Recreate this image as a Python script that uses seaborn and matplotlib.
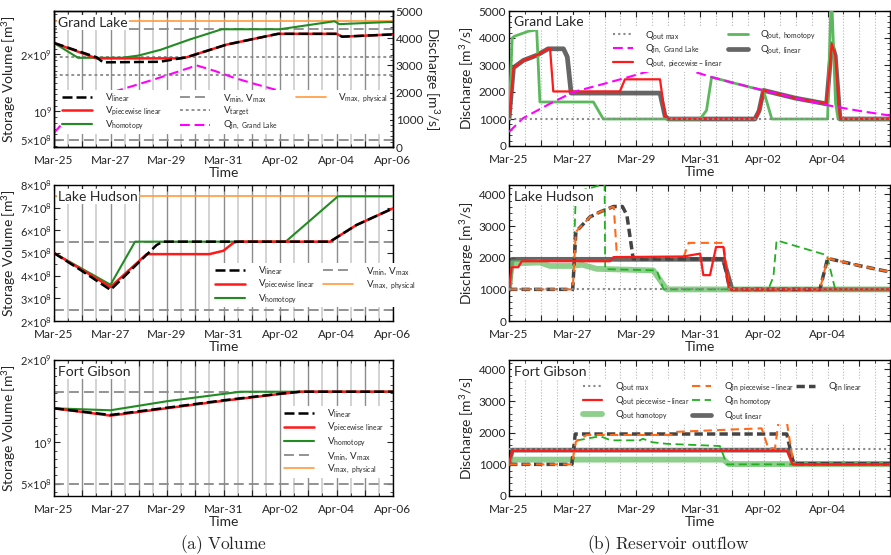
import matplotlib

matplotlib.use("Agg")
import matplotlib.dates as mdates
import matplotlib.pyplot as plt
import numpy as np
import pandas as pd
import seaborn as sns
from matplotlib.lines import Line2D
from matplotlib.ticker import AutoMinorLocator, FixedLocator, FuncFormatter, MultipleLocator

START = pd.Timestamp("2019-03-25")

# ---------------- Grand Lake ----------------
gl_inflow_days = [0, 0.44, 1.29, 2.02, 3.0, 3.59, 4.3, 5.05, 5.68, 6.36, 7.0, 8.0, 9.0, 10.0, 11.0, 12.0]
gl_inflow = [520, 1030, 1570, 2000, 2310, 2500, 2740, 3000, 2800, 2550, 2350, 2060, 1770, 1510, 1300, 1120]

gl_v_lin_days = [0, 1.5, 1.74, 3.74, 4.7, 6.1, 7.06, 7.93, 10.0, 10.2, 12]
gl_v_lin = [2.20e9, 1.95e9, 1.86e9, 1.87e9, 1.95e9, 2.17e9, 2.27e9, 2.36e9, 2.36e9, 2.31e9, 2.35e9]
gl_v_pwl_days = [0, 1.5, 4.5, 4.7, 6.1, 7.06, 7.93, 10.0, 10.2, 12]
gl_v_pwl = [2.20e9, 1.93e9, 1.93e9, 1.95e9, 2.17e9, 2.27e9, 2.36e9, 2.36e9, 2.31e9, 2.35e9]
gl_v_hom_days = [0, 0.85, 2.4, 3.0, 3.77, 4.8, 5.94, 7.99, 9.93, 10.1, 12]
gl_v_hom = [2.20e9, 1.94e9, 1.94e9, 1.98e9, 2.08e9, 2.26e9, 2.44e9, 2.44e9, 2.58e9, 2.53e9, 2.57e9]
gl_v_min, gl_v_max = 5.0e8, 2.44e9
gl_v_target = [1.95e9, 1.635e9]
gl_v_max_phys = 2.59e9

gl_q_hom_days = [0, 0.1, 0.16, 0.61, 0.87, 0.97, 2.65, 2.86, 2.96, 6.0, 6.2, 6.36, 7.0, 7.99, 8.25,
                 10.0, 10.12, 10.25, 10.33, 12]
gl_q_hom = [1000, 4000, 4060, 4250, 4300, 1630, 1630, 1200, 1000, 1000, 1320, 2550, 2350, 2050, 1000,
            1000, 5800, 1600, 1000, 1000]
gl_q_lin_days = [0, 0.14, 0.45, 0.87, 1.23, 1.71, 1.83, 1.95, 4.74, 4.9, 5.0, 7.72, 7.85, 7.99, 9.0,
                 9.97, 10.13, 10.24, 10.39, 12]
gl_q_lin = [1000, 2900, 3170, 3360, 3600, 3600, 3300, 1960, 1960, 1100, 1000, 1000, 1300, 2060, 1770,
            1560, 3790, 3350, 1000, 1000]
gl_q_pwl_days = [0, 0.14, 0.45, 0.87, 1.23, 1.29, 1.39, 3.48, 3.64, 4.74, 4.9, 5.0, 7.72, 7.85, 7.99,
                 9.0, 9.97, 10.13, 10.24, 10.39, 12]
gl_q_pwl = [1000, 2900, 3170, 3360, 3600, 3600, 2020, 2020, 2470, 2470, 1100, 1000, 1000, 1300, 2060,
            1770, 1560, 3790, 3350, 1000, 1000]
gl_q_max = 1000

# ---------------- Lake Hudson ----------------
lh_v_lin_days = [0, 1.0, 2.0, 3.63, 3.85, 9.77, 10.7, 12]
lh_v_lin = [5.0e8, 4.2e8, 3.37e8, 5.35e8, 5.5e8, 5.5e8, 6.23e8, 6.97e8]
lh_v_pwl_days = [0, 1.0, 2.0, 3.28, 5.5, 6.0, 6.35, 6.5, 9.77, 10.7, 12]
lh_v_pwl = [5.0e8, 4.25e8, 3.5e8, 4.95e8, 4.95e8, 5.1e8, 5.45e8, 5.5e8, 5.5e8, 6.23e8, 6.97e8]
lh_v_hom_days = [0, 2.0, 2.87, 8.2, 10.05, 12]
lh_v_hom = [5.0e8, 3.6e8, 5.5e8, 5.5e8, 7.5e8, 7.5e8]
lh_v_min, lh_v_max = 2.5e8, 5.5e8
lh_v_max_phys = 7.5e8

lh_qout_hom_days = [0, 0.08, 0.97, 1.29, 1.97, 2.3, 2.75, 4.53, 4.74, 4.95, 12]
lh_qout_hom = [1000, 1820, 1850, 1740, 1740, 1780, 1650, 1600, 1300, 1000, 1000]
lh_qin_hom_days = [0, 2.0, 2.1, 2.86, 3.0, 3.02, 4.64, 4.85, 8.14, 8.3, 8.4, 9.98, 10.24, 12]
lh_qin_hom = [1000, 1000, 4080, 4290, 4320, 1640, 1600, 1000, 1000, 1400, 2550, 2080, 1000, 1000]
lh_qin_lin_days = [0, 2.0, 2.1, 2.54, 2.86, 3.28, 3.56, 3.7, 3.9, 6.73, 6.9, 7.0, 9.76, 10.0, 11.0, 11.96]
lh_qin_lin = [1000, 1000, 2820, 3290, 3450, 3620, 3620, 3350, 1960, 1960, 1150, 1000, 1000, 1980, 1750, 1550]
lh_qin_pwl_days = [0, 2.0, 2.1, 2.54, 2.86, 3.23, 3.29, 3.39, 5.48, 5.64, 6.73, 6.9, 7.0, 9.76, 10.0,
                   11.0, 11.96]
lh_qin_pwl = [1000, 1000, 2820, 3290, 3450, 3600, 3600, 2020, 2020, 2470, 2470, 1150, 1000, 1000, 1980,
              1750, 1550]
lh_qout_pwl_days = [0, 0.08, 0.29, 0.4, 3.17, 3.28, 5.47, 6.0, 6.1, 6.31, 6.5, 6.73, 6.9, 12]
lh_qout_pwl = [1000, 1700, 1700, 1890, 1890, 2020, 2040, 2130, 1450, 1450, 2340, 2340, 1000, 1000]
lh_qout_lin_days = [0, 0.1, 6.73, 7.0, 12]
lh_qout_lin = [1000, 1950, 1950, 1000, 1000]
lh_q_max = 1000

# ---------------- Fort Gibson ----------------
fg_v_lin_days = [0, 2.0, 4.0, 6.0, 8.0, 8.7, 12]
fg_v_lin = [1.414e9, 1.333e9, 1.421e9, 1.511e9, 1.591e9, 1.615e9, 1.615e9]
fg_v_pwl_days = [0, 2.0, 4.0, 6.0, 8.0, 8.75, 12]
fg_v_pwl = [1.414e9, 1.325e9, 1.415e9, 1.505e9, 1.588e9, 1.615e9, 1.615e9]
fg_v_hom_days = [0, 2.0, 4.0, 6.6, 12]
fg_v_hom = [1.414e9, 1.39e9, 1.50e9, 1.615e9, 1.615e9]
fg_v_min, fg_v_max = 4.9e8, 1.615e9

fg_qout_lin_days = [0, 0.1, 8.77, 8.93, 12]
fg_qout_lin = [1000, 1450, 1450, 1020, 1020]
fg_qout_pwl_days = [0, 0.1, 8.72, 8.9, 12]
fg_qout_pwl = [1000, 1440, 1440, 1000, 1000]
fg_qout_hom_days = [0, 0.1, 6.73, 6.9, 12]
fg_qout_hom = [1000, 1150, 1150, 1010, 1010]
fg_qin_pwl_days = [0, 1.97, 2.1, 2.44, 5.16, 5.27, 7.93, 8.14, 8.35, 8.46, 8.72, 8.93, 12]
fg_qin_pwl = [1000, 1000, 1720, 1930, 1930, 2030, 2140, 1510, 1510, 2350, 2350, 1000, 1000]
fg_qin_hom_days = [0, 2.0, 2.1, 2.86, 3.2, 4.11, 4.2, 4.5, 4.95, 6.62, 6.84, 12]
fg_qin_hom = [1000, 1000, 1750, 1890, 1760, 1760, 1810, 1700, 1650, 1580, 1000, 1000]
fg_qin_lin_days = [0, 1.97, 2.08, 8.72, 8.93, 12]
fg_qin_lin = [1000, 1000, 1960, 1960, 1020, 1020]
fg_q_max = 1500

# ---------------- style ----------------
sns.set_style("ticks", {"axes.edgecolor": "black", "xtick.direction": "in", "ytick.direction": "in"})
plt.rcParams["font.family"] = ["Lato", "DejaVu Sans"]
plt.rcParams["mathtext.default"] = "regular"
plt.rcParams["mathtext.fontset"] = "dejavusans"
plt.rcParams["axes.linewidth"] = 1.0

C_RED = "#ff1a1a"
C_GREEN = "#228b22"
C_GRAY = "#8a8a8a"
C_ORANGE = "#ff9a3c"
C_MAGENTA = "#ff00ff"

ST = dict(
    v_lin=dict(color="black", linewidth=1.8, linestyle=(0, (4, 1.6))),
    v_pwl=dict(color=C_RED, linewidth=1.8),
    v_hom=dict(color=C_GREEN, linewidth=1.5),
    v_minmax=dict(color=C_GRAY, linewidth=1.3, linestyle=(0, (5.5, 2.8))),
    v_target=dict(color=C_GRAY, linewidth=1.3, linestyle=(0, (1.6, 1.6))),
    v_phys=dict(color=C_ORANGE, linewidth=1.2),
    q_inflow=dict(color=C_MAGENTA, linewidth=1.5, linestyle=(0, (4.7, 2.3))),
    q_max=dict(color=C_GRAY, linewidth=1.5, linestyle=(0, (1, 1.5))),
    qout_pwl=dict(color=C_RED, linewidth=1.6),
    qout_lin=dict(color="#555555", linewidth=3.4, alpha=0.9),
    qout_hom_thin=dict(color="#5cb85c", linewidth=2.0),
    qout_hom=dict(color="#6abf69", linewidth=4.2, alpha=0.75),
    qin_pwl=dict(color="#ff6a1a", linewidth=1.5, linestyle=(0, (4, 2.5))),
    qin_hom=dict(color="#22b022", linewidth=1.3, linestyle=(0, (4.5, 2.5))),
    qin_lin=dict(color="#444444", linewidth=2.5, linestyle=(0, (2.4, 1.2))),
)

W, H = 891, 555
fig = plt.figure(figsize=(W / 100, H / 100), dpi=100)


def px_axes(x0, y0, x1, y1):
    return fig.add_axes([x0 / W, 1 - y1 / H, (x1 - x0) / W, (y1 - y0) / H])


def to_time(days):
    return START + pd.to_timedelta(np.asarray(days, dtype=float), unit="D")


def line(ax, days, vals, style, zorder=2):
    sns.lineplot(x=to_time(days), y=np.asarray(vals, dtype=float), ax=ax, estimator=None,
                 sort=False, legend=False, zorder=zorder, **ST[style])


def hline(ax, value, style, zorder=2):
    ax.axhline(value, zorder=zorder, **ST[style])


def handle(style):
    if style is None:
        return Line2D([], [], color="none")
    return Line2D([], [], **ST[style])


BASE = mdates.date2num(START)


def date_label(x, pos):
    if int(round(x - BASE)) % 2 == 0:
        return mdates.num2date(x).strftime("%b-%d")
    return ""


def time_axis(ax, end_days, left_panel):
    ax.set_xlim(to_time([0])[0], to_time([end_days])[0])
    ax.xaxis.set_major_locator(mdates.DayLocator())
    ax.xaxis.set_minor_locator(mdates.HourLocator(byhour=12))
    ax.xaxis.set_major_formatter(FuncFormatter(date_label))
    if left_panel:
        ax.grid(axis="x", which="major", color="#8c8c8c", linewidth=1.0)
        ax.grid(axis="x", which="minor", color="#d0d0d0", linewidth=1.3)
    else:
        ax.grid(axis="x", which="both", color="#b5b5b5", linewidth=0.8, linestyle=":")
    ax.set_axisbelow(True)
    ax.set_xlabel("Time", fontsize=10, labelpad=0.5)
    ax.tick_params(which="both", direction="in", top=True, labelsize=8.5)
    ax.tick_params(axis="x", pad=6)
    ax.tick_params(axis="y", pad=2)
    ax.tick_params(which="major", length=4)
    ax.tick_params(which="minor", length=2)


def sci(v):
    m, e = f"{v:e}".split("e")
    m = float(m)
    e = int(e)
    if abs(m - 1) < 1e-9:
        return f"10$^{{{e}}}$"
    return f"{m:g}×10$^{{{e}}}$"


def volume_axis(ax):
    ax.yaxis.set_major_formatter(FuncFormatter(lambda v, p: sci(v)))
    ax.tick_params(axis="y", labelsize=8, pad=1.5)
    ax.set_ylabel(VOLUME, fontsize=10, labelpad=1)


def panel_name(ax, name):
    ax.text(0.012, 0.915, name, transform=ax.transAxes, fontsize=10, va="center", ha="left",
            zorder=6, bbox=dict(facecolor="white", edgecolor="none", pad=1.0))


def legend(ax, handles, labels, ncol, anchor, hlen):
    leg = ax.legend(handles, labels, ncol=ncol, bbox_to_anchor=anchor, fontsize=7,
                    handlelength=hlen, handletextpad=1.3, labelspacing=0.12, borderpad=0.15,
                    columnspacing=1.0, borderaxespad=0, frameon=True, facecolor="white",
                    edgecolor="none", framealpha=1, mode="expand", loc="upper left")
    leg.set_zorder(6)
    return leg


DISCHARGE = "Discharge [m$^{3}$/s]"
VOLUME = "Storage Volume [m$^{3}$]"

# ---------------- (a) Grand Lake volume ----------------
ax = px_axes(54, 11, 393, 147)
ax2 = ax.twinx()
hline(ax, gl_v_min, "v_minmax")
hline(ax, gl_v_max, "v_minmax")
for v in gl_v_target:
    hline(ax, v, "v_target")
hline(ax, gl_v_max_phys, "v_phys")
line(ax, gl_v_hom_days, gl_v_hom, "v_hom", 3)
line(ax, gl_v_pwl_days, gl_v_pwl, "v_pwl", 3)
line(ax, gl_v_lin_days, gl_v_lin, "v_lin", 4)
line(ax2, gl_inflow_days, gl_inflow, "q_inflow")
time_axis(ax, 12, True)
ax.set_ylim(3.77e8, 2.76e9)
ax.yaxis.set_major_locator(FixedLocator([5e8, 1e9, 2e9]))
ax.yaxis.set_minor_locator(MultipleLocator(1e8))
ax.tick_params(axis="y", which="both", right=False)
volume_axis(ax)
ax2.set_ylim(0, 5000)
ax2.yaxis.set_major_locator(MultipleLocator(1000))
ax2.yaxis.set_minor_locator(AutoMinorLocator(5))
ax2.tick_params(which="both", direction="in", labelsize=8.5, pad=2)
ax2.tick_params(which="major", length=4)
ax2.tick_params(which="minor", length=2)
ax2.set_ylabel(DISCHARGE, fontsize=10, rotation=270, labelpad=13)
ax2.grid(False)
panel_name(ax2, "Grand Lake")
legend(ax2,
       [handle("v_lin"), handle("v_pwl"), handle("v_hom"), handle("v_minmax"), handle("v_target"),
        handle("q_inflow"), handle("v_phys"), handle(None), handle(None)],
       ["V$_{linear}$", "V$_{piecewise\\ linear}$", "V$_{homotopy}$", "V$_{min}$, V$_{max}$",
        "V$_{target}$", "Q$_{in,\\ Grand\\ Lake}$", "V$_{max,\\ physical}$", "", ""],
       3, (0.02, 0.42, 0.97, 0.0), 3.1)

# ---------------- (a) Lake Hudson volume ----------------
ax = px_axes(54, 185, 393, 321)
hline(ax, lh_v_min, "v_minmax")
hline(ax, lh_v_max, "v_minmax")
hline(ax, lh_v_max_phys, "v_phys")
line(ax, lh_v_hom_days, lh_v_hom, "v_hom", 3)
line(ax, lh_v_pwl_days, lh_v_pwl, "v_pwl", 3)
line(ax, lh_v_lin_days, lh_v_lin, "v_lin", 4)
time_axis(ax, 12, True)
ax.set_ylim(2e8, 8e8)
ax.yaxis.set_major_locator(MultipleLocator(1e8))
ax.yaxis.set_minor_locator(AutoMinorLocator(2))
ax.tick_params(axis="y", which="both", right=True)
volume_axis(ax)
panel_name(ax, "Lake Hudson")
legend(ax,
       [handle("v_lin"), handle("v_pwl"), handle("v_hom"), handle("v_minmax"), handle("v_phys")],
       ["V$_{linear}$", "V$_{piecewise\\ linear}$", "V$_{homotopy}$", "V$_{min}$, V$_{max}$",
        "V$_{max,\\ physical}$"],
       2, (0.47, 0.425, 0.60, 0.0), 3.1)

# ---------------- (a) Fort Gibson volume ----------------
ax = px_axes(54, 360, 393, 496)
hline(ax, fg_v_min, "v_minmax")
hline(ax, fg_v_max, "v_minmax")
line(ax, fg_v_hom_days, fg_v_hom, "v_hom", 3)
line(ax, fg_v_pwl_days, fg_v_pwl, "v_pwl", 3)
line(ax, fg_v_lin_days, fg_v_lin, "v_lin", 4)
time_axis(ax, 12, True)
ax.set_ylim(3.5e8, 2e9)
ax.yaxis.set_major_locator(FixedLocator([5e8, 1e9, 2e9]))
ax.yaxis.set_minor_locator(MultipleLocator(1e8))
ax.tick_params(axis="y", which="both", right=True)
volume_axis(ax)
panel_name(ax, "Fort Gibson")
legend(ax,
       [handle("v_lin"), handle("v_pwl"), handle("v_hom"), handle("v_minmax"), handle("v_phys")],
       ["V$_{linear}$", "V$_{piecewise\\ linear}$", "V$_{homotopy}$", "V$_{min}$, V$_{max}$",
        "V$_{max,\\ physical}$"],
       1, (0.675, 0.66, 0.30, 0.0), 3.1)


def discharge_axis(ax, top):
    ax.set_ylim(0, top)
    ax.yaxis.set_major_locator(MultipleLocator(1000))
    ax.yaxis.set_minor_locator(AutoMinorLocator(5))
    ax.tick_params(axis="y", which="both", right=True)
    ax.set_ylabel(DISCHARGE, fontsize=10, labelpad=2)


END_R = 11.96

# ---------------- (b) Grand Lake outflow ----------------
ax = px_axes(509, 11, 890, 146)
line(ax, gl_q_lin_days, gl_q_lin, "qout_lin", 2)
line(ax, gl_q_hom_days, gl_q_hom, "qout_hom_thin", 3)
line(ax, gl_q_pwl_days, gl_q_pwl, "qout_pwl", 4)
line(ax, gl_inflow_days, gl_inflow, "q_inflow", 5)
hline(ax, gl_q_max, "q_max", 5)
time_axis(ax, END_R, False)
discharge_axis(ax, 5000)
panel_name(ax, "Grand Lake")
legend(ax,
       [handle("q_max"), handle("q_inflow"), handle("qout_pwl"), handle("qout_hom_thin"),
        handle("qout_lin")],
       ["Q$_{out\\ max}$", "Q$_{in,\\ Grand\\ Lake}$", "Q$_{out,\\ piecewise-linear}$",
        "Q$_{out,\\ homotopy}$", "Q$_{out,\\ linear}$"],
       2, (0.27, 0.88, 0.54, 0.0), 2.0)

# ---------------- (b) Lake Hudson outflow ----------------
ax = px_axes(509, 185, 890, 321)
line(ax, lh_qout_lin_days, lh_qout_lin, "qout_lin", 2)
line(ax, lh_qout_hom_days, lh_qout_hom, "qout_hom", 2)
line(ax, lh_qin_hom_days, lh_qin_hom, "qin_hom", 3)
line(ax, lh_qin_lin_days, lh_qin_lin, "qin_lin", 3)
line(ax, lh_qin_pwl_days, lh_qin_pwl, "qin_pwl", 4)
line(ax, lh_qout_pwl_days, lh_qout_pwl, "qout_pwl", 4)
hline(ax, lh_q_max, "q_max", 5)
time_axis(ax, END_R, False)
discharge_axis(ax, 4300)
panel_name(ax, "Lake Hudson")

# ---------------- (b) Fort Gibson outflow ----------------
ax = px_axes(509, 360, 890, 496)
line(ax, fg_qout_lin_days, fg_qout_lin, "qout_lin", 2)
line(ax, fg_qout_hom_days, fg_qout_hom, "qout_hom", 2)
line(ax, fg_qin_hom_days, fg_qin_hom, "qin_hom", 3)
line(ax, fg_qin_lin_days, fg_qin_lin, "qin_lin", 3)
line(ax, fg_qin_pwl_days, fg_qin_pwl, "qin_pwl", 4)
line(ax, fg_qout_pwl_days, fg_qout_pwl, "qout_pwl", 4)
hline(ax, fg_q_max, "q_max", 5)
time_axis(ax, END_R, False)
discharge_axis(ax, 4300)
panel_name(ax, "Fort Gibson")
legend(ax,
       [handle("q_max"), handle("qout_pwl"), handle("qout_hom"), handle("qin_pwl"), handle("qin_hom"),
        handle("qout_lin"), handle("qin_lin"), handle(None), handle(None)],
       ["Q$_{out\\ max}$", "Q$_{out\\ piecewise-linear}$", "Q$_{out\\ homotopy}$",
        "Q$_{in\\ piecewise-linear}$", "Q$_{in\\ homotopy}$", "Q$_{out\\ linear}$",
        "Q$_{in\\ linear}$", "", ""],
       3, (0.19, 0.86, 0.74, 0.0), 2.0)

# ---------------- captions ----------------
fig.text(224 / W, 1 - 545 / H, r"$\mathrm{(a)\ Volume}$", math_fontfamily="cm", fontsize=12.5,
         ha="center", va="center")
fig.text(668 / W, 1 - 545 / H, r"$\mathrm{(b)\ Reservoir\ outflow}$", math_fontfamily="cm",
         fontsize=12.5, ha="center", va="center")

fig.savefig("out.png", dpi=100)
